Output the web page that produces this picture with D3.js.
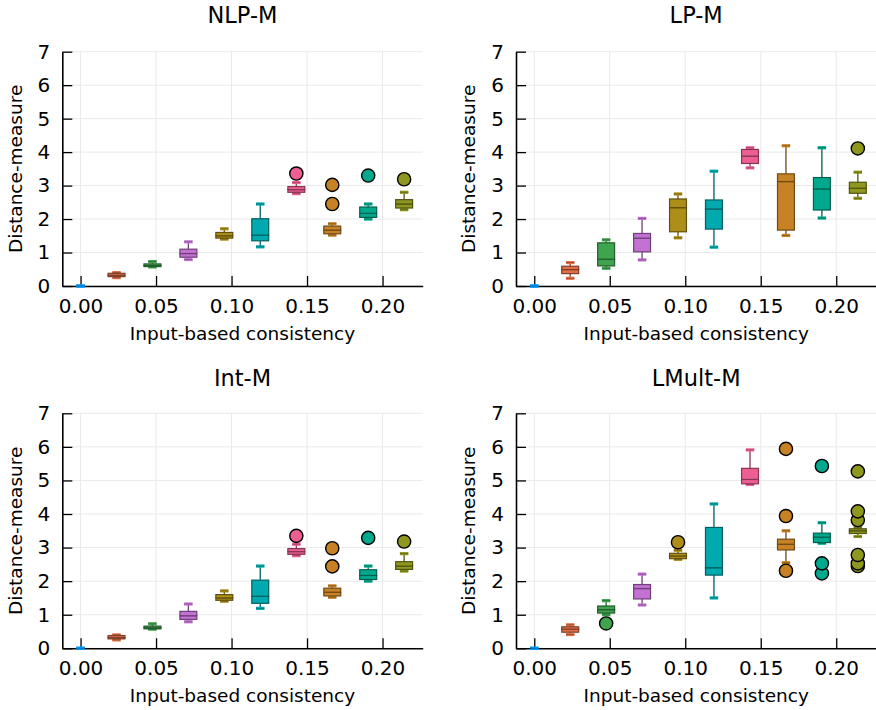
<!DOCTYPE html>
<html>
<head>
<meta charset="utf-8">
<script src="https://cdn.jsdelivr.net/npm/d3@7"></script>
<style>
  body { margin: 0; background: #fff; }
  svg { font-family: "DejaVu Sans", sans-serif; }
</style>
</head>
<body>
<svg id="chart" width="876" height="710"></svg>
<script>
const svg = d3.select('#chart')

// x positions of the ten groups (input-based consistency)
const xValues = [0, 0.0238, 0.0476, 0.0714, 0.0952, 0.1190, 0.1429, 0.1667, 0.1905, 0.2143]
const xTicks = [0, 0.05, 0.10, 0.15, 0.20]
const yTicks = [0, 1, 2, 3, 4, 5, 6, 7]
const colors = ['#009AFA', '#E36F47', '#3EA44E', '#C371D2', '#AC8E18', '#00AAAE', '#ED5E93', '#C68225', '#00A98D', '#8E971E']

// [low whisker, q1, median, q3, high whisker]
const nlpBoxes = [
  [0, 0, 0, 0, 0], [0.25, 0.28, 0.32, 0.38, 0.40], [0.57, 0.58, 0.61, 0.66, 0.73],
  [0.79, 0.86, 0.97, 1.10, 1.32], [1.40, 1.43, 1.50, 1.60, 1.71], [1.17, 1.35, 1.52, 2.01, 2.45],
  [2.76, 2.80, 2.88, 2.97, 3.09], [1.52, 1.56, 1.67, 1.79, 1.86], [2.00, 2.05, 2.17, 2.36, 2.45],
  [2.28, 2.33, 2.45, 2.58, 2.80]
]
const nlpOutliers = [[], [], [], [], [], [], [3.36], [2.45, 3.02], [3.30], [3.19]]

const lpBoxes = [
  [0, 0, 0, 0, 0], [0.23, 0.37, 0.49, 0.59, 0.70], [0.53, 0.60, 0.80, 1.29, 1.38],
  [0.78, 1.02, 1.43, 1.57, 2.02], [1.44, 1.62, 2.34, 2.60, 2.75], [1.16, 1.70, 2.30, 2.57, 3.43],
  [3.53, 3.66, 3.88, 4.08, 4.13], [1.51, 1.67, 3.12, 3.35, 4.19], [2.03, 2.27, 2.90, 3.24, 4.13],
  [2.62, 2.77, 2.92, 3.10, 3.40]
]
const lpOutliers = [[], [], [], [], [], [], [], [], [], [4.11]]

const intBoxes = [
  [0, 0, 0, 0, 0], [0.25, 0.28, 0.32, 0.38, 0.40], [0.57, 0.58, 0.61, 0.66, 0.73],
  [0.79, 0.86, 0.97, 1.10, 1.32], [1.40, 1.43, 1.50, 1.60, 1.71], [1.19, 1.34, 1.55, 2.03, 2.45],
  [2.76, 2.80, 2.88, 2.97, 3.10], [1.52, 1.56, 1.67, 1.79, 1.86], [2.00, 2.05, 2.17, 2.34, 2.45],
  [2.30, 2.35, 2.45, 2.58, 2.82]
]
const intOutliers = [[], [], [], [], [], [], [3.35], [2.44, 2.98], [3.29], [3.18]]

const lmultBoxes = [
  [0, 0, 0, 0, 0], [0.41, 0.48, 0.57, 0.64, 0.70], [1.00, 1.05, 1.15, 1.26, 1.42],
  [1.29, 1.47, 1.78, 1.90, 2.21], [2.65, 2.67, 2.75, 2.83, 2.92], [1.50, 2.18, 2.40, 3.60, 4.30],
  [4.88, 4.90, 5.03, 5.36, 5.91], [2.55, 2.93, 3.10, 3.25, 3.50], [3.13, 3.15, 3.31, 3.43, 3.74],
  [3.33, 3.42, 3.50, 3.56, 3.60]
]
const lmultOutliers = [[], [], [0.74], [], [3.16], [], [], [2.31, 3.94, 5.94], [2.23, 2.53, 5.43], [2.45, 2.53, 2.78, 3.82, 4.08, 5.27]]

const panels = [
  { title: 'NLP-M', boxes: nlpBoxes, outliers: nlpOutliers, left: 62.3, top: 51.7, bottom: 286, titleY: 23.3 },
  { title: 'LP-M', boxes: lpBoxes, outliers: lpOutliers, left: 516, top: 51.7, bottom: 286, titleY: 23.3 },
  { title: 'Int-M', boxes: intBoxes, outliers: intOutliers, left: 62.3, top: 413.3, bottom: 648.3, titleY: 386 },
  { title: 'LMult-M', boxes: lmultBoxes, outliers: lmultOutliers, left: 516, top: 413.3, bottom: 648.3, titleY: 386 }
]

const plotWidth = 360.4
const boxWidth = 0.0112

panels.forEach(p => {
  const x = d3.scaleLinear().domain([-0.0121, 0.2266]).range([p.left, p.left + plotWidth])
  const y = d3.scaleLinear().domain([0, 7]).range([p.bottom, p.top])
  const g = svg.append('g')

  // grid
  g.selectAll('line.gx').data(xTicks).enter().append('line')
    .attr('x1', d => x(d)).attr('x2', d => x(d))
    .attr('y1', p.top).attr('y2', p.bottom)
    .attr('stroke', '#e9e9e9').attr('stroke-width', 1)
  g.selectAll('line.gy').data(yTicks).enter().append('line')
    .attr('x1', p.left).attr('x2', p.left + plotWidth)
    .attr('y1', d => y(d)).attr('y2', d => y(d))
    .attr('stroke', '#e9e9e9').attr('stroke-width', 1)

  // axes
  const xAxis = d3.axisBottom(x).tickValues(xTicks).tickFormat(d3.format('.2f'))
    .tickSizeInner(-10).tickSizeOuter(0).tickPadding(13)
  const yAxis = d3.axisLeft(y).tickValues(yTicks).tickFormat(d3.format('d'))
    .tickSizeInner(-10).tickSizeOuter(0).tickPadding(12)
  const xa = g.append('g').attr('transform', `translate(0,${p.bottom})`).call(xAxis)
  const ya = g.append('g').attr('transform', `translate(${p.left},0)`).call(yAxis)
  ;[xa, ya].forEach(a => {
    a.select('.domain').attr('stroke', '#000').attr('stroke-width', 1.6)
    a.selectAll('.tick line').attr('stroke', '#000').attr('stroke-width', 1.3)
    a.selectAll('.tick text').attr('fill', '#000').style('font-size', '20px')
      .style('font-family', '"DejaVu Sans", sans-serif')
  })

  // boxes
  p.boxes.forEach((b, i) => {
    const c = colors[i]
    const dark = d3.color(c).darker(1.6)
    const cx = x(xValues[i])
    const hw = (x(boxWidth) - x(0)) / 2
    const bg = g.append('g')
    // whiskers
    bg.append('line').attr('x1', cx).attr('x2', cx).attr('y1', y(b[3])).attr('y2', y(b[4]))
      .attr('stroke', dark).attr('stroke-width', 1.3)
    bg.append('line').attr('x1', cx).attr('x2', cx).attr('y1', y(b[1])).attr('y2', y(b[0]))
      .attr('stroke', dark).attr('stroke-width', 1.3)
    ;[b[0], b[4]].forEach(v => {
      bg.append('line').attr('x1', cx - hw / 2).attr('x2', cx + hw / 2)
        .attr('y1', y(v)).attr('y2', y(v))
        .attr('stroke', c).attr('stroke-width', 3.2)
      bg.append('line').attr('x1', cx - hw / 2).attr('x2', cx + hw / 2)
        .attr('y1', y(v)).attr('y2', y(v))
        .attr('stroke', dark).attr('stroke-width', 1).attr('stroke-opacity', 0.6)
    })
    // lower and upper halves of the box
    ;[[b[1], b[2]], [b[2], b[3]]].forEach(([lo, hi]) => {
      bg.append('rect')
        .attr('x', cx - hw).attr('width', hw * 2)
        .attr('y', y(hi)).attr('height', Math.max(y(lo) - y(hi), 0))
        .attr('fill', c)
        .attr('stroke', i === 0 ? c : dark).attr('stroke-width', i === 0 ? 2.2 : 1.2)
    })
    // outliers
    bg.selectAll('circle').data(p.outliers[i]).enter().append('circle')
      .attr('cx', cx).attr('cy', d => y(d)).attr('r', 6.6)
      .attr('fill', c).attr('stroke', '#000').attr('stroke-width', 1.4)
  })

  // titles and labels
  const cxp = p.left + plotWidth / 2
  g.append('text').attr('x', cxp).attr('y', p.titleY)
    .attr('text-anchor', 'middle').style('font-size', '22.5px').text(p.title)
  g.append('text').attr('x', cxp).attr('y', p.bottom + 53.5)
    .attr('text-anchor', 'middle').style('font-size', '18.5px').text('Input-based consistency')
  g.append('text')
    .attr('transform', `translate(${p.left - 40.8},${(p.top + p.bottom) / 2}) rotate(-90)`)
    .attr('text-anchor', 'middle').style('font-size', '18.5px').text('Distance-measure')
})
</script>
</body>
</html>
